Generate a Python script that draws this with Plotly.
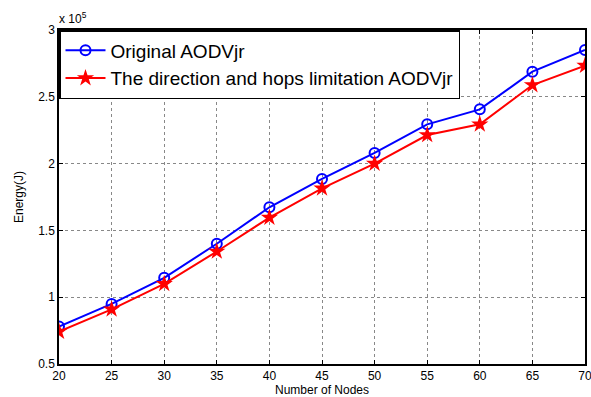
import plotly.graph_objects as go

nodes = [20, 25, 30, 35, 40, 45, 50, 55, 60, 65, 70]
original = [0.78, 0.95, 1.145, 1.40, 1.673, 1.885, 2.08, 2.294, 2.406, 2.688, 2.85]
limited = [0.742, 0.909, 1.10, 1.342, 1.596, 1.815, 2.0, 2.214, 2.294, 2.588, 2.733]
y_ticks = [0.5, 1, 1.5, 2, 2.5, 3]
y_tick_labels = ["0.5", "1", "1.5", "2", "2.5", "3"]
x_ticks = [20, 25, 30, 35, 40, 45, 50, 55, 60, 65, 70]

font = "Liberation Sans, Arial, sans-serif"

fig = go.Figure()
fig.add_trace(go.Scatter(
    x=nodes, y=original, mode="lines+markers", name="Original AODVjr",
    line=dict(color="#0000ff", width=2),
    marker=dict(symbol="circle-open", size=10, color="#0000ff", line=dict(width=2)),
))
fig.add_trace(go.Scatter(
    x=nodes, y=limited, mode="lines+markers", name="The direction and hops limitation AODVjr",
    line=dict(color="#ff0000", width=2),
    marker=dict(symbol="star", size=13, color="#ff0000", line=dict(width=0)),
))

axis_common = dict(
    showline=True, linecolor="black", linewidth=1.5, mirror="ticks",
    ticks="inside", ticklen=4, tickcolor="black",
    showgrid=True, gridcolor="#888888", griddash="dot", gridwidth=1,
    zeroline=False, automargin=False, ticklabeloverflow="allow",
    tickfont=dict(family=font, size=12, color="black"),
)

fig.update_xaxes(range=[20, 70], tickvals=x_ticks,
                 title=dict(text="Number of Nodes", font=dict(family=font, size=12, color="black"), standoff=4),
                 **axis_common)
fig.update_yaxes(range=[0.5, 3], tickvals=y_ticks, ticktext=y_tick_labels,
                 title=dict(text="Energy(J)", font=dict(family=font, size=12, color="black"), standoff=12),
                 **axis_common)

fig.add_annotation(xref="paper", yref="paper", x=0, y=1, xanchor="left", yanchor="bottom",
                   text="x 10<sup>5</sup>", showarrow=False, yshift=2, xshift=-2,
                   font=dict(family=font, size=12, color="black"))

fig.update_layout(
    width=591, height=397,
    margin=dict(l=59, r=6, t=30, b=33),
    paper_bgcolor="white", plot_bgcolor="white",
    legend=dict(x=0, y=1, xanchor="left", yanchor="top",
                bgcolor="white", bordercolor="black", borderwidth=1.5,
                font=dict(family=font, size=19, color="black"),
                tracegroupgap=0, itemwidth=40),
    showlegend=True,
)

fig.write_html("out.html")
